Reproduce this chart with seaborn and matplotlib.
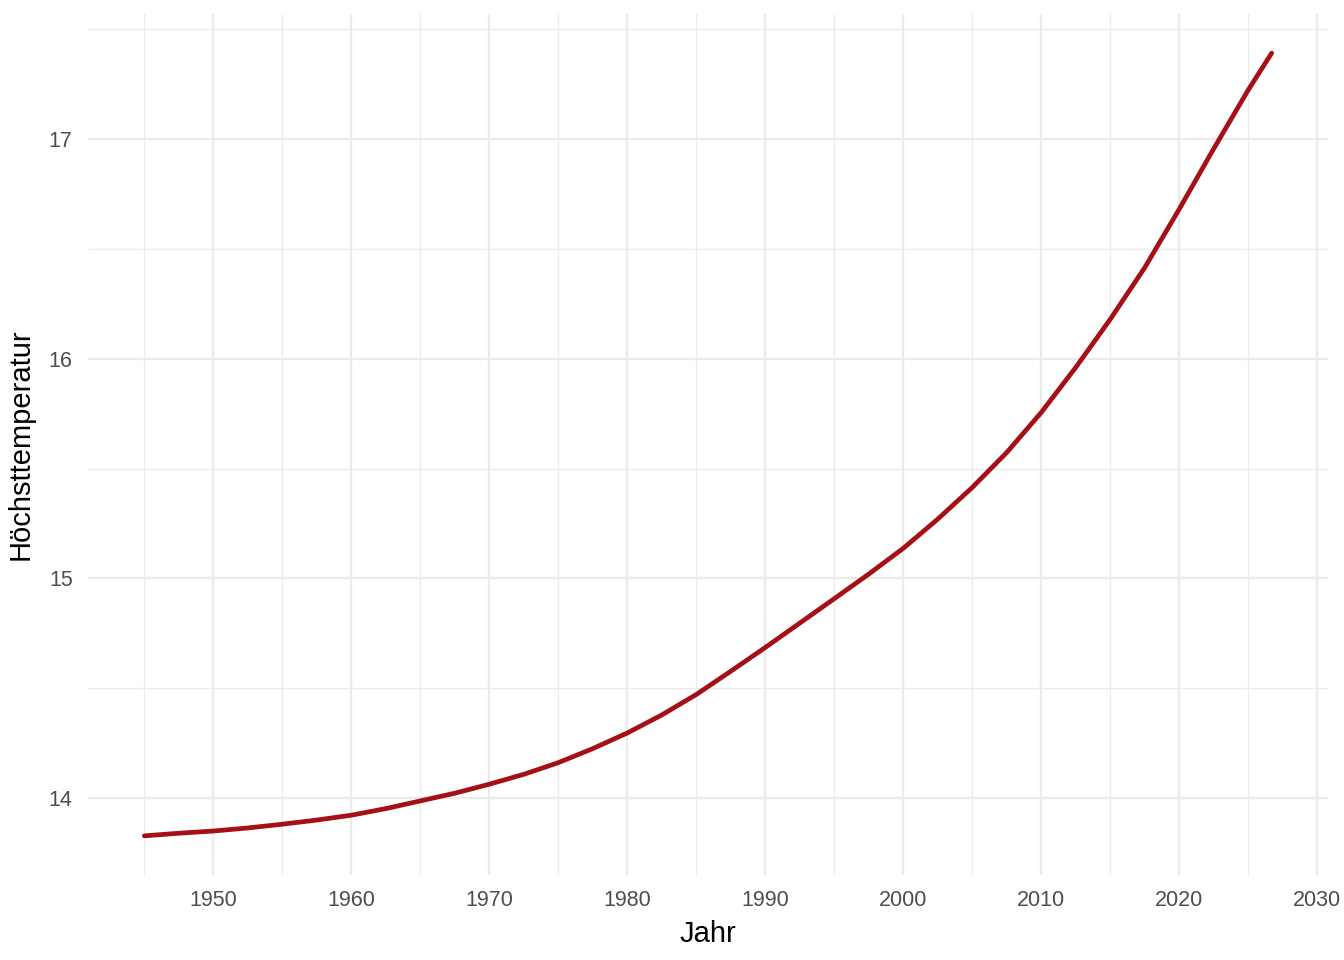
import pandas as pd
import matplotlib
matplotlib.use('Agg')
import matplotlib.pyplot as plt
from matplotlib.ticker import MultipleLocator
import seaborn as sns

# values (every 2.5 years)
years = [1945, 1947.5, 1950, 1952.5, 1955, 1957.5, 1960, 1962.5, 1965, 1967.5,
         1970, 1972.5, 1975, 1977.5, 1980, 1982.5, 1985, 1987.5, 1990, 1992.5,
         1995, 1997.5, 2000, 2002.5, 2005, 2007.5, 2010, 2012.5, 2015, 2017.5,
         2020, 2022.5, 2025, 2026.7]
temps = [13.829, 13.841, 13.851, 13.865, 13.882, 13.901, 13.923, 13.953, 13.988, 14.023,
         14.064, 14.109, 14.162, 14.226, 14.297, 14.379, 14.472, 14.578, 14.686, 14.797,
         14.908, 15.02, 15.137, 15.27, 15.414, 15.573, 15.755, 15.96, 16.179, 16.414,
         16.68, 16.955, 17.222, 17.39]

df = pd.DataFrame({'Jahr': years, 'Höchsttemperatur': temps})

sns.set_theme(style='white')
plt.rcParams['font.family'] = ['Liberation Sans', 'DejaVu Sans']

fig = plt.figure(figsize=(13.44, 9.6), dpi=100)
ax = fig.add_axes([88/1344, 1 - 875/960, (1328 - 88)/1344, (875 - 14)/960])

sns.lineplot(data=df, x='Jahr', y='Höchsttemperatur', color='#A50F15', linewidth=3.4, ax=ax)

# ggplot-ish minimal theme
ax.xaxis.set_major_locator(MultipleLocator(10))
ax.xaxis.set_minor_locator(MultipleLocator(5))
ax.yaxis.set_major_locator(MultipleLocator(1))
ax.yaxis.set_minor_locator(MultipleLocator(0.5))
ax.grid(which='major', color='#EBEBEB', linewidth=1.7)
ax.grid(which='minor', color='#EBEBEB', linewidth=0.9)
ax.set_axisbelow(True)
for s in ax.spines.values():
    s.set_visible(False)
ax.tick_params(which='both', length=0, labelsize=15.5, labelcolor='#4D4D4D')
ax.tick_params(axis='x', pad=11)
ax.tick_params(axis='y', pad=11)
ax.set_xlabel('Jahr', fontsize=21, labelpad=6, color='black')
ax.set_ylabel('Höchsttemperatur', fontsize=21, labelpad=10, color='black')

fig.savefig('out.png', dpi=100, facecolor='white')
